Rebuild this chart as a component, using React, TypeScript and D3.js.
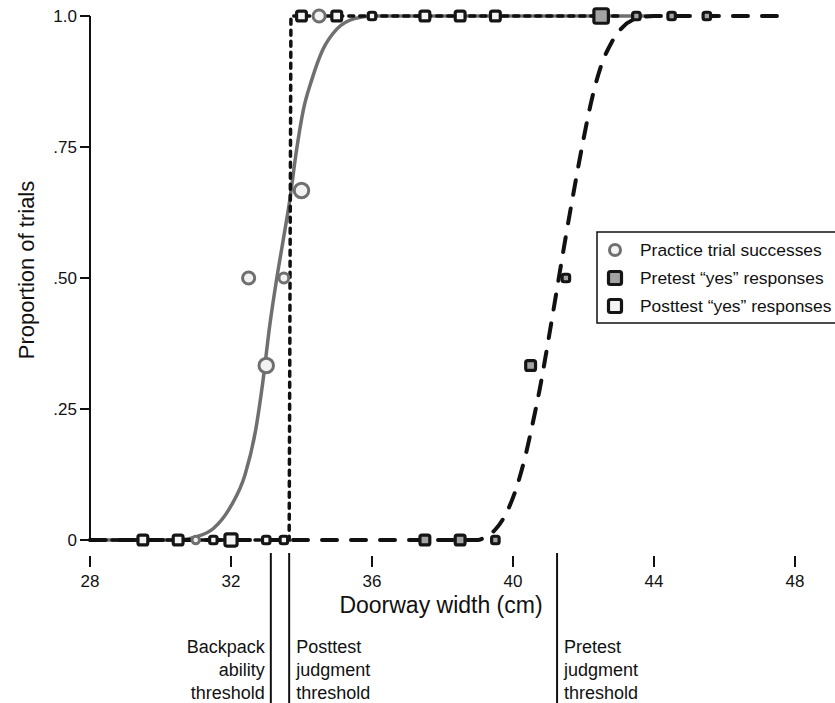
import React from 'react';
import * as d3 from 'd3';

// doorway widths (cm), proportions, and how many trials a marker stands for
const practiceX = [31, 32.5, 33, 33.5, 34, 34.5];
const practiceY = [0, 0.5, 0.333, 0.5, 0.667, 1];
const practiceN = [1, 3, 4, 2, 4, 3];

const pretestX = [37.5, 38.5, 39.5, 40.5, 41.5, 42.5, 43.5, 44.5, 45.5];
const pretestY = [0, 0, 0, 0.333, 0.5, 1, 1, 1, 1];
const pretestN = [2, 2, 1, 2, 1, 4, 1, 1, 1];

const posttestX = [29.5, 30.5, 31.5, 32, 33, 33.5, 34, 35, 36, 37.5, 38.5, 39.5];
const posttestY = [0, 0, 0, 0, 0, 0, 1, 1, 1, 1, 1, 1];
const posttestN = [2, 2, 1, 3, 1, 1, 2, 2, 1, 2, 2, 2];

// fitted curves: [width, proportion]
const practiceCurve: [number, number][] = [
  [28, 0], [30.5, 0], [31, 0.006], [31.5, 0.022], [32, 0.065], [32.4, 0.125],
  [32.7, 0.21], [32.9, 0.3], [33.1, 0.41], [33.3, 0.5], [33.5, 0.58],
  [33.67, 0.65], [33.85, 0.74], [34.05, 0.82], [34.3, 0.88], [34.6, 0.935],
  [35, 0.975], [35.5, 0.995], [36, 1], [44, 1],
];
const pretestCurve: [number, number][] = [
  [28, 0], [39, 0], [39.2, 0.005], [39.5, 0.02], [39.8, 0.05], [40.1, 0.1],
  [40.35, 0.16], [40.55, 0.22], [40.75, 0.285], [41, 0.38], [41.25, 0.48],
  [41.5, 0.58], [41.75, 0.675], [42, 0.765], [42.25, 0.845], [42.5, 0.905],
  [42.8, 0.95], [43.1, 0.978], [43.5, 0.995], [44, 1], [47.55, 1],
];
const posttestCurve: [number, number][] = [
  [28, 0], [33.65, 0], [33.7, 1], [43, 1],
];

const xTicks = [28, 32, 36, 40, 44, 48];
const yTicks = [0, 0.25, 0.5, 0.75, 1];
const yTickLabels = ['0', '.25', '.50', '.75', '1.0'];

const thresholds = [
  { x: 33.13, lines: ['Backpack', 'ability', 'threshold'], side: 'left' },
  { x: 33.65, lines: ['Posttest', 'judgment', 'threshold'], side: 'right' },
  { x: 41.25, lines: ['Pretest', 'judgment', 'threshold'], side: 'right' },
];

const legendLabels = [
  'Practice trial successes',
  'Pretest \u201cyes\u201d responses',
  'Posttest \u201cyes\u201d responses',
];

const font = '"Liberation Sans", Arial, Helvetica, sans-serif';

const App = () => {
  const width = 835;
  const height = 703;

  const x = d3.scaleLinear().domain([28, 48]).range([90, 795]);
  const y = d3.scaleLinear().domain([0, 1]).range([540, 16]);
  const size = d3.scaleLinear().domain([1, 4]).range([10.5, 17.5]);

  const line = d3.line<[number, number]>()
    .x(d => x(d[0]))
    .y(d => y(d[1]))
    .curve(d3.curveMonotoneX);
  const straight = d3.line<[number, number]>()
    .x(d => x(d[0]))
    .y(d => y(d[1]));

  const square = (cx: number, cy: number, s: number, fill: string, key: string) => {
    const side = s - 3;
    return (
      <rect key={key} x={cx - side / 2} y={cy - side / 2} width={side} height={side}
        rx={2} fill={fill} stroke="#151515" strokeWidth={3.2} />
    );
  };

  return (
    <svg width={width} height={height} style={{ position: 'absolute', left: 0, top: 0, background: '#fff' }}
      fontFamily={font}>
      {/* y axis */}
      <line x1={90} x2={90} y1={y(1)} y2={y(0)} stroke="#111" strokeWidth={2} />
      {yTicks.map((t, i) => (
        <g key={'yt' + i}>
          <line x1={80} x2={90} y1={y(t)} y2={y(t)} stroke="#111" strokeWidth={2} />
          <text x={77} y={y(t)} dy="0.35em" textAnchor="end" fontSize={17} fill="#111">{yTickLabels[i]}</text>
        </g>
      ))}
      <text transform={`translate(34,${(y(0) + y(1)) / 2 - 8}) rotate(-90)`} textAnchor="middle"
        fontSize={22} fill="#111">Proportion of trials</text>

      {/* x ticks, no axis line */}
      {xTicks.map(t => (
        <g key={'xt' + t}>
          <line x1={x(t)} x2={x(t)} y1={556} y2={567} stroke="#111" strokeWidth={2} />
          <text x={x(t)} y={587} textAnchor="middle" fontSize={17} fill="#111">{t}</text>
        </g>
      ))}
      <text x={441} y={613} textAnchor="middle" fontSize={23} fill="#111">Doorway width (cm)</text>

      {/* thresholds */}
      {thresholds.map((th, i) => (
        <g key={'th' + i}>
          <line x1={x(th.x)} x2={x(th.x)} y1={553} y2={height} stroke="#111" strokeWidth={2} />
          {th.lines.map((l, j) => (
            <text key={j} x={th.side === 'left' ? x(th.x) - 6 : x(th.x) + 7} y={653 + j * 23}
              textAnchor={th.side === 'left' ? 'end' : 'start'} fontSize={18} fill="#111">{l}</text>
          ))}
        </g>
      ))}

      {/* curves */}
      <path d={line(practiceCurve) || ''} fill="none" stroke="#6f6f6f" strokeWidth={3.5} />
      <path d={line(pretestCurve) || ''} fill="none" stroke="#111" strokeWidth={4}
        strokeDasharray="15,14" strokeLinecap="round" />
      <path d={straight(posttestCurve) || ''} fill="none" stroke="#111" strokeWidth={3.5}
        strokeDasharray="5,6" strokeLinecap="round" />

      {/* markers */}
      {practiceX.map((v, i) => (
        <circle key={'pc' + i} cx={x(v)} cy={y(practiceY[i])} r={(size(practiceN[i]) - 3) / 2}
          fill="#f2f2f2" stroke="#6f6f6f" strokeWidth={3} />
      ))}
      {pretestX.map((v, i) => square(x(v), y(pretestY[i]), size(pretestN[i]), '#a3a3a3', 'pr' + i))}
      {posttestX.map((v, i) => square(x(v), y(posttestY[i]), size(posttestN[i]), '#f4f4f4', 'po' + i))}

      {/* legend */}
      <rect x={597} y={232} width={260} height={91} fill="#fff" stroke="#111" strokeWidth={1.5} />
      <circle cx={615} cy={250} r={5.5} fill="#f2f2f2" stroke="#6f6f6f" strokeWidth={3} />
      {square(615, 278, 16, '#a3a3a3', 'lg1')}
      {square(615, 306, 16, '#f4f4f4', 'lg2')}
      {legendLabels.map((l, i) => (
        <text key={'lg' + i} x={640} y={256 + i * 28} fontSize={17.4} fill="#111">{l}</text>
      ))}
    </svg>
  );
};

export default App;
